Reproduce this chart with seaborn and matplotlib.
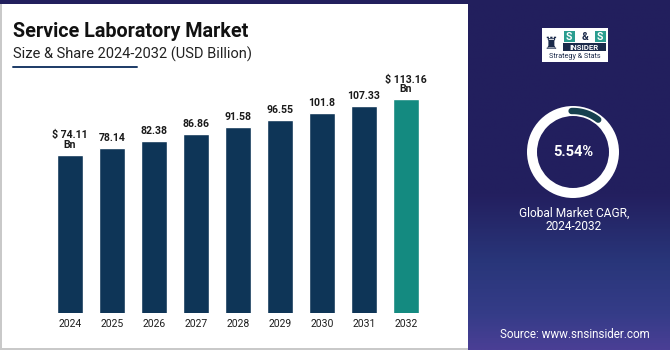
import numpy as np
import pandas as pd
import matplotlib
matplotlib.use("Agg")
import matplotlib.pyplot as plt
from matplotlib.patches import Rectangle, Wedge
from matplotlib.colors import LinearSegmentedColormap
import seaborn as sns

# -----------------------------
# DATA
# -----------------------------
years = ["2024", "2025", "2026", "2027", "2028", "2029", "2030", "2031", "2032"]
market_size = [74.11, 78.14, 82.38, 86.86, 91.58, 96.55, 101.8, 107.33, 113.16]
bar_labels = ["$ 74.11\nBn", "78.14", "82.38", "86.86", "91.58",
              "96.55", "101.8", "107.33", "$ 113.16\nBn"]
cagr_text = "5.54%"

# -----------------------------
# STYLE
# -----------------------------
W, H = 670, 350
NAVY_BG = "#221f5d"
BAR_NAVY = "#0e3557"
BAR_TEAL = "#148a80"
ARC_COLOR = "#17404f"
LOGO_NAVY = "#1b2a4a"
LOGO_TEAL = "#2a9d8f"

sns.set_theme(style="white")
plt.rcParams["font.family"] = ["Roboto", "DejaVu Sans"]


def fx(px):
    return px / W


def fy(py):
    # pixel y measured from the top
    return 1 - py / H


fig = plt.figure(figsize=(W / 100, H / 100), dpi=100)
fig.patch.set_facecolor(NAVY_BG)

# right panel gradient
grad_ax = fig.add_axes([fx(468), 0, fx(202), fy(4)])
cmap = LinearSegmentedColormap.from_list(
    "panel", [(0, NAVY_BG), (0.55, "#231f5f"), (0.75, "#29367a"),
              (0.9, "#353c88"), (1, "#4a3f95")])
grad_ax.imshow(np.linspace(0, 1, 200).reshape(-1, 1), aspect="auto", cmap=cmap,
               extent=[0, 1, 1, 0])
grad_ax.axis("off")

# white card on the left
fig.add_artist(Rectangle((0, fy(350)), fx(469), fy(4) - fy(350),
                         transform=fig.transFigure, facecolor="#c9c9c9",
                         edgecolor="none", zorder=0))
fig.add_artist(Rectangle((fx(1.5), fy(348)), fx(466.5), fy(4) - fy(348),
                         transform=fig.transFigure, facecolor="white",
                         edgecolor="none", zorder=0))

# -----------------------------
# BARS
# -----------------------------
df = pd.DataFrame({"year": years, "size": market_size})
colors = [BAR_NAVY] * (len(years) - 1) + [BAR_TEAL]

ax = fig.add_axes([fx(28), 1 - 313 / H, fx(420), 233 / H])
ax.set_facecolor("none")
sns.barplot(data=df, x="year", y="size", hue="year", palette=colors,
            legend=False, width=0.64, saturation=1, ax=ax)
# compressed value scale as in the original graphic
ax.set_yscale("log")
ax.set_ylim(22.4, 130.7)
ax.set_xlim(-1, 9)
ax.set_yticks([])
ax.set_yticks([], minor=True)
ax.set_xlabel("")
ax.set_ylabel("")
for s in ax.spines.values():
    s.set_visible(False)
ax.tick_params(axis="x", length=0, pad=4, labelsize=7.5, labelcolor="#1e1e1e")

for i, (v, lab) in enumerate(zip(market_size, bar_labels)):
    ax.annotate(lab, (i, v), xytext=(0, 3.5), textcoords="offset points",
                ha="center", va="bottom", fontsize=7.6, fontweight="bold",
                color="#1a1a1a", linespacing=0.95)

# -----------------------------
# TITLES
# -----------------------------
fig.text(fx(13), fy(37), "Service Laboratory Market", fontsize=14.2,
         fontweight="bold", color="#111111", va="baseline")
fig.text(fx(13), fy(59), "Size & Share 2024-2032 (USD Billion)", fontsize=10.5,
         color="#222222", va="baseline")
fig.add_artist(plt.Line2D([fx(13), fx(137)], [fy(67), fy(67)],
                          transform=fig.transFigure, color="#1b3a66", lw=1.4))

# -----------------------------
# RIGHT PANEL
# -----------------------------
# logo
fig.add_artist(Rectangle((fx(542), fy(62)), fx(66), fy(28) - fy(62),
                         transform=fig.transFigure, facecolor="white",
                         edgecolor="none"))
fig.text(fx(551), fy(44), "\u265c", fontsize=12, color=LOGO_NAVY,
         ha="center", va="center", family=["DejaVu Sans"])
for px, ch in ((569, "S"), (585, "&"), (600, "S")):
    if ch == "S":
        fig.add_artist(Rectangle((fx(px - 5.5), fy(42)), fx(11), fy(31) - fy(42),
                                 transform=fig.transFigure, facecolor=LOGO_TEAL,
                                 edgecolor="none"))
        fig.text(fx(px), fy(36.5), ch, fontsize=7.5, fontweight="bold",
                 color="white", ha="center", va="center")
    else:
        fig.text(fx(px), fy(36.5), ch, fontsize=7.5, fontweight="bold",
                 color=LOGO_NAVY, ha="center", va="center")
fig.add_artist(Rectangle((fx(563), fy(51)), fx(43), fy(43) - fy(51),
                         transform=fig.transFigure, facecolor=LOGO_NAVY,
                         edgecolor="none"))
fig.text(fx(584.5), fy(47), "INSIDER", fontsize=5.6, fontweight="bold",
         color="white", ha="center", va="center")
fig.text(fx(575), fy(57), "Strategy & Stats", fontsize=5.2,
         color=LOGO_NAVY, ha="center", va="center")

# donut
d_ax = fig.add_axes([fx(573 - 55), fy(152 + 55), fx(110), 110 / H])
d_ax.set_xlim(-55, 55)
d_ax.set_ylim(-55, 55)
d_ax.set_aspect("equal")
d_ax.axis("off")
d_ax.add_patch(Wedge((0, 0), 46, 0, 360, width=10, facecolor="white",
                     edgecolor="none"))
theta = np.radians(np.linspace(92, 52, 50))
d_ax.plot(41 * np.cos(theta), 41 * np.sin(theta), color=ARC_COLOR, lw=4.6,
          solid_capstyle="round")
d_ax.text(0, 0, cagr_text, fontsize=10.5, fontweight="bold", color="white",
          ha="center", va="center")

fig.text(fx(574), fy(213), "Global Market CAGR,", fontsize=8.6, color="white",
         ha="center", va="center")
fig.text(fx(574), fy(226), "2024-2032", fontsize=8.6, color="white",
         ha="center", va="center")
fig.text(fx(575), fy(334), "Source: www.snsinsider.com", fontsize=8.4,
         color="white", ha="center", va="center")

fig.savefig("out.png", dpi=100, facecolor=fig.get_facecolor())
